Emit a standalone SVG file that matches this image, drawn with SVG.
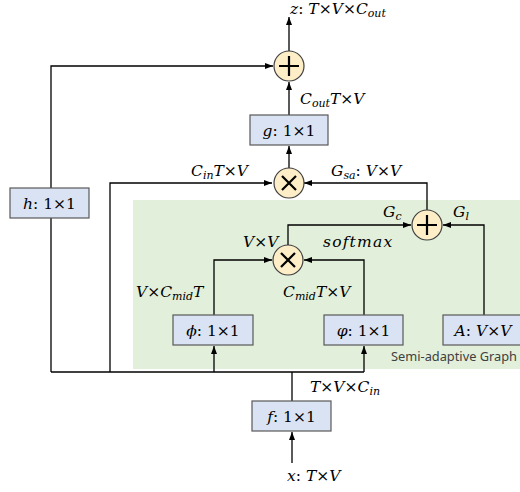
<svg xmlns="http://www.w3.org/2000/svg" width="520" height="492" viewBox="0 0 520 492">
<defs>
<marker id="ah" viewBox="0 0 8 6" refX="8" refY="3" markerWidth="8" markerHeight="6" markerUnits="userSpaceOnUse" orient="auto">
<path d="M0,0 L8,3 L0,6 z" fill="#000"/>
</marker>
<style>
.bg{fill:#e2efda;}
.box{fill:#dae3f3;stroke:#595959;stroke-width:1.2;}
.op{fill:#fdeec8;stroke:#404040;stroke-width:1.2;}
.sym{stroke:#000;stroke-width:2.2;fill:none;}
.c{fill:none;stroke:#000;stroke-width:1.3;}
.m{font-family:"DejaVu Serif","Liberation Serif",serif;font-size:15.5px;font-style:italic;fill:#000;}
.r{font-style:normal;}
.s{font-size:11px;}
.cap{font-family:"Noto Sans","DejaVu Sans",sans-serif;font-size:12.8px;fill:#404040;}
</style>
</defs>
<rect class="bg" x="133" y="200" width="400" height="169"/>
<g id="connectors">
<path class="c" d="M292,463 V432" marker-end="url(#ah)"/>
<path class="c" d="M292,401 V372"/>
<path class="c" d="M51,372 H364"/>
<path class="c" d="M51,372 V218"/>
<path class="c" d="M51,188 V66 H273" marker-end="url(#ah)"/>
<path class="c" d="M110,372 V183 H272" marker-end="url(#ah)"/>
<path class="c" d="M214,372 V346" marker-end="url(#ah)"/>
<path class="c" d="M364,372 V346" marker-end="url(#ah)"/>
<path class="c" d="M214,315 V260 H272" marker-end="url(#ah)"/>
<path class="c" d="M364,315 V260 H304" marker-end="url(#ah)"/>
<path class="c" d="M288,245 V225 H411" marker-end="url(#ah)"/>
<path class="c" d="M484,315 V225 H443" marker-end="url(#ah)"/>
<path class="c" d="M427,210 V183 H304" marker-end="url(#ah)"/>
<path class="c" d="M289,168 V146" marker-end="url(#ah)"/>
<path class="c" d="M289,115 V82" marker-end="url(#ah)"/>
<path class="c" d="M289,51 V17" marker-end="url(#ah)"/>
</g>
<g id="plus_out">
<circle class="op" cx="289" cy="66" r="15"/>
<path class="sym" d="M279,66 H299 M289,56 V76"/>
</g>
<g id="times_main">
<circle class="op" cx="289" cy="183" r="15"/>
<path class="sym" d="M282,176 L296,190 M296,176 L282,190"/>
</g>
<g id="plus_graph">
<circle class="op" cx="427" cy="225" r="15"/>
<path class="sym" d="M417,225 H437 M427,215 V235"/>
</g>
<g id="times_small">
<circle class="op" cx="288" cy="260" r="15"/>
<path class="sym" d="M281,253 L295,267 M295,253 L281,267"/>
</g>
<g id="h">
<rect class="box" x="10" y="188" width="79" height="30"/>
<text class="m" x="49.5" y="208.5" text-anchor="middle">h<tspan class="r">: 1×1</tspan></text>
</g>
<g id="g">
<rect class="box" x="250" y="115" width="78" height="30"/>
<text class="m" x="289" y="135.5" text-anchor="middle">g<tspan class="r">: 1×1</tspan></text>
</g>
<g id="phi">
<rect class="box" x="173" y="315" width="80" height="30"/>
<text class="m" x="213" y="335.5" text-anchor="middle">ϕ<tspan class="r">: 1×1</tspan></text>
</g>
<g id="varphi">
<rect class="box" x="324" y="315" width="79" height="30"/>
<text class="m" x="363.5" y="335.5" text-anchor="middle">φ<tspan class="r">: 1×1</tspan></text>
</g>
<g id="A">
<rect class="box" x="443" y="315" width="79" height="30"/>
<text class="m" x="483" y="335.5" text-anchor="middle">A<tspan class="r">: </tspan>V<tspan class="r">×</tspan>V</text>
</g>
<g id="f">
<rect class="box" x="252" y="401" width="79" height="30"/>
<text class="m" x="291.5" y="421.5" text-anchor="middle">f<tspan class="r">: 1×1</tspan></text>
</g>
<g id="labels">
<text class="m" x="290" y="14">z<tspan class="r">: </tspan>T<tspan class="r">×</tspan>V<tspan class="r">×</tspan>C<tspan class="s" dy="3">out</tspan></text>
<text class="m" x="300" y="104">C<tspan class="s" dy="3">out</tspan><tspan dy="-3">T</tspan><tspan class="r">×</tspan>V</text>
<text class="m" x="191" y="176">C<tspan class="s" dy="3">in</tspan><tspan dy="-3">T</tspan><tspan class="r">×</tspan>V</text>
<text class="m" x="331" y="176">G<tspan class="s" dy="3">sa</tspan><tspan class="r" dy="-3">: </tspan>V<tspan class="r">×</tspan>V</text>
<text class="m" x="383" y="217">G<tspan class="s" dy="3">c</tspan></text>
<text class="m" x="453" y="217">G<tspan class="s" dy="3">l</tspan></text>
<text class="m" x="243" y="247">V<tspan class="r">×</tspan>V</text>
<text class="m" x="323" y="247" letter-spacing="1.2">softmax</text>
<text class="m" x="136" y="297">V<tspan class="r">×</tspan>C<tspan class="s" dy="3">mid</tspan><tspan dy="-3">T</tspan></text>
<text class="m" x="283" y="297">C<tspan class="s" dy="3">mid</tspan><tspan dy="-3">T</tspan><tspan class="r">×</tspan>V</text>
<text class="m" x="310" y="392">T<tspan class="r">×</tspan>V<tspan class="r">×</tspan>C<tspan class="s" dy="3">in</tspan></text>
<text class="m" x="287" y="481">x<tspan class="r">: </tspan>T<tspan class="r">×</tspan>V</text>
<text class="cap" x="391" y="361">Semi-adaptive Graph</text>
</g>
</svg>
